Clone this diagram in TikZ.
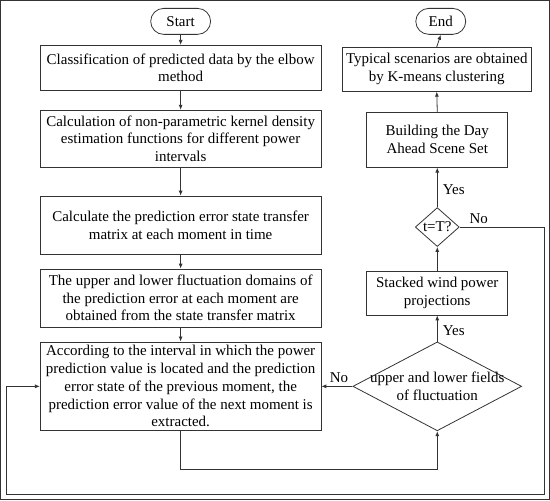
\documentclass[tikz,border=0pt]{standalone}
\usepackage{fontspec}
\setmainfont{Liberation Serif}
\usetikzlibrary{arrows.meta,shapes.geometric}
\begin{document}
\begin{tikzpicture}[x=1pt,y=-1pt,
  font=\fontsize{15}{17.8}\selectfont,
  every path/.style={line width=0.8pt,draw=black!80},
  box/.style={draw=black!80,line width=0.8pt,rectangle,align=center,inner sep=0pt},
  term/.style={draw=black!80,line width=0.8pt,rectangle,rounded corners=13pt,inner sep=0pt,minimum height=26pt},
  dia/.style={draw=black!80,line width=0.8pt,diamond,inner sep=0pt},
  arr/.style={-{Latex[length=5pt,width=4pt]}},
  lbl/.style={inner sep=0pt}]
\useasboundingbox (0,0) rectangle (550,500);
% left column
\node[term,minimum width=60pt] (start) at (180.5,21) {Start};
\node[box,minimum width=281pt,minimum height=45pt] (b1) at (180.5,67.5) {Classification of predicted data by the elbow\\method};
\node[box,minimum width=281pt,minimum height=57pt] (b2) at (180.5,138.5) {Calculation of non-parametric kernel density\\estimation functions for different power\\intervals};
\node[box,minimum width=281pt,minimum height=58pt] (b3) at (180.5,225) {Calculate the prediction error state transfer\\matrix at each moment in time};
\node[box,minimum width=281pt,minimum height=58pt] (b4) at (180.5,298) {The upper and lower fluctuation domains of\\the prediction error at each moment are\\obtained from the state transfer matrix};
\node[box,minimum width=281pt,minimum height=89pt] (b5) at (180.5,386.5) {According to the interval in which the power\\prediction value is located and the prediction\\error state of the previous moment, the\\prediction error value of the next moment is\\extracted.};
% right column
\node[term,minimum width=50pt] (end) at (441,21) {End};
\node[box,minimum width=190pt,minimum height=44pt] (typ) at (437,69) {Typical scenarios are obtained\\by K-means clustering};
\node[box,minimum width=141pt,minimum height=55pt] (bld) at (437.5,139.5) {Building the Day\\Ahead Scene Set};
\node[dia,minimum width=44pt,minimum height=39pt] (d2) at (437.5,227) {};
\node[lbl] (d2t) at (d2) {t=T?};
\node[box,minimum width=141pt,minimum height=44pt] (stk) at (437.5,293) {Stacked wind power\\projections};
\node[dia,minimum width=169pt,minimum height=89pt] (d1) at (437.5,386.5) {};
\node[lbl,align=center] (d1t) at (d1) {upper and lower fields\\of fluctuation};
% helper coordinates
\coordinate (c1) at (180.5,470);
\coordinate (c2) at (437.5,470);
\coordinate (c3) at (545,227);
\coordinate (c4) at (545,495);
\coordinate (c5) at (6,495);
\coordinate (c6) at (6,386.5);
% connectors
\draw[arr] (start) -- (b1);
\draw[arr] (b1) -- (b2);
\draw[arr] (b2) -- (b3);
\draw[arr] (b3) -- (b4);
\draw[arr] (b4) -- (b5);
\draw[arr] (b5.south) -- (c1) -- (c2) -- (d1.south);
\draw[arr] (d1.west) -- (b5.east);
\draw[arr] (d1.north) -- (stk.south);
\draw[arr] (stk.north) -- (d2.south);
\draw[arr] (d2.north) -- (bld.south);
\draw[arr] (bld.north) -- (typ.south);
\draw[arr] (typ.north) -- (end.south);
\draw[arr] (d2.east) -- (c3) -- (c4) -- (c5) -- (c6) -- (b5.west);
% labels
\node[lbl] (l1) at (339,378) {No};
\node[lbl] (l2) at (454,331) {Yes};
\node[lbl] (l3) at (454,190) {Yes};
\node[lbl] (l4) at (479,219) {No};
\end{tikzpicture}
\end{document}
